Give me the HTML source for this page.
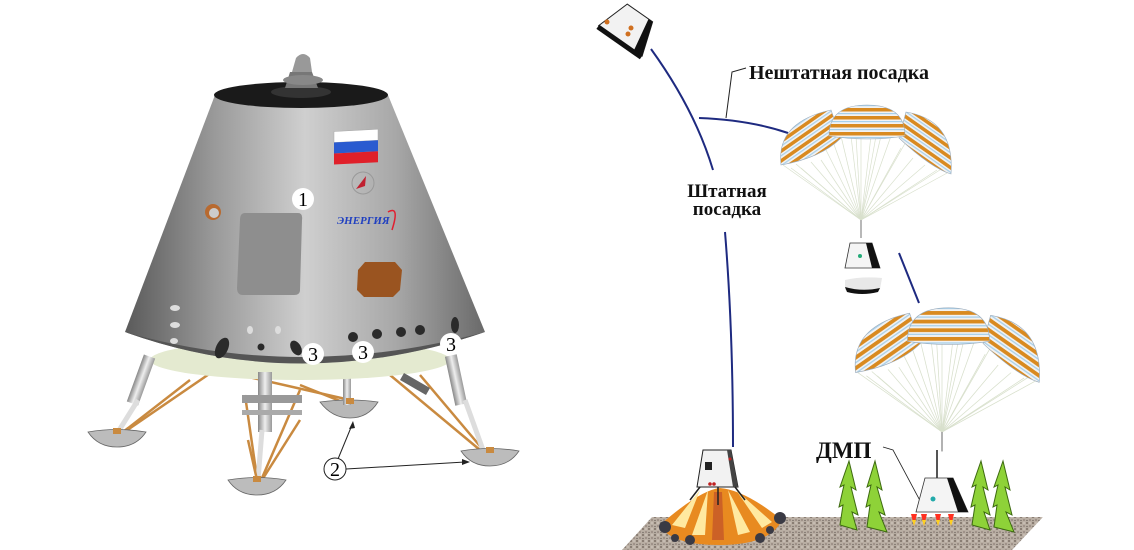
<!DOCTYPE html>
<html><head><meta charset="utf-8"><style>
html,body{margin:0;padding:0;background:#fff;}
svg{display:block;}
text{font-family:"Liberation Serif",serif;}
</style></head><body>
<svg width="1134" height="550" viewBox="0 0 1134 550" xmlns="http://www.w3.org/2000/svg">
<defs>
<linearGradient id="body" x1="0" x2="1" y1="0" y2="0">
<stop offset="0" stop-color="#5a5a5a"/><stop offset="0.25" stop-color="#9a9a9a"/><stop offset="0.5" stop-color="#cfcfcf"/><stop offset="0.75" stop-color="#a8a8a8"/><stop offset="1" stop-color="#6a6a6a"/>
</linearGradient>
<linearGradient id="leg" x1="0" x2="1"><stop offset="0" stop-color="#888"/><stop offset=".5" stop-color="#eee"/><stop offset="1" stop-color="#999"/></linearGradient>
<pattern id="str" width="20" height="8" patternUnits="userSpaceOnUse">
<rect width="20" height="8" fill="#f2f2f2"/><rect y="0" width="20" height="3.5" fill="#d98a20"/><rect y="5" width="20" height="1.2" fill="#a8d0ea"/>
</pattern>
<pattern id="str2" width="20" height="8" patternUnits="userSpaceOnUse" patternTransform="rotate(-35)">
<rect width="20" height="8" fill="#f2f2f2"/><rect width="20" height="3.5" fill="#d98a20"/><rect y="5" width="20" height="1.2" fill="#a8d0ea"/>
</pattern>
<pattern id="str3" width="20" height="8" patternUnits="userSpaceOnUse" patternTransform="rotate(35)">
<rect width="20" height="8" fill="#f2f2f2"/><rect width="20" height="3.5" fill="#d98a20"/><rect y="5" width="20" height="1.2" fill="#a8d0ea"/>
</pattern>
<pattern id="gr" width="6" height="6" patternUnits="userSpaceOnUse">
<rect width="6" height="6" fill="#b9aea3"/><circle cx="1" cy="1" r="1" fill="#7a6e66"/><circle cx="4" cy="4" r="0.9" fill="#8c7f77"/><circle cx="4" cy="1" r="0.6" fill="#e6e0da"/><circle cx="1" cy="4.5" r="0.6" fill="#5f5650"/>
</pattern>
<g id="chute">
<g stroke="#d8e0cc" stroke-width="0.7">
<line x1="0" y1="0" x2="-78" y2="-55"/><line x1="0" y1="0" x2="-70" y2="-52"/><line x1="0" y1="0" x2="-60" y2="-52"/><line x1="0" y1="0" x2="-50" y2="-58"/><line x1="0" y1="0" x2="-40" y2="-60"/><line x1="0" y1="0" x2="-30" y2="-84"/><line x1="0" y1="0" x2="-20" y2="-84"/><line x1="0" y1="0" x2="-10" y2="-84"/><line x1="0" y1="0" x2="0" y2="-84"/><line x1="0" y1="0" x2="10" y2="-84"/><line x1="0" y1="0" x2="20" y2="-84"/><line x1="0" y1="0" x2="30" y2="-84"/><line x1="0" y1="0" x2="40" y2="-72"/><line x1="0" y1="0" x2="52" y2="-62"/><line x1="0" y1="0" x2="64" y2="-55"/><line x1="0" y1="0" x2="76" y2="-50"/><line x1="0" y1="0" x2="88" y2="-48"/><line x1="0" y1="0" x2="-35" y2="-70"/><line x1="0" y1="0" x2="46" y2="-80"/><line x1="0" y1="0" x2="-65" y2="-56"/><line x1="0" y1="0" x2="82" y2="-52"/><line x1="0" y1="0" x2="-5" y2="-84"/><line x1="0" y1="0" x2="15" y2="-84"/>
</g>
<path d="M-80,-55 Q-85,-98 -30,-110 L-20,-82 Q-40,-62 -80,-55Z" fill="url(#str2)" stroke="#9ab" stroke-width="0.6"/>
<path d="M38,-82 L45,-108 Q94,-100 90,-46 Q70,-52 38,-82Z" fill="url(#str3)" stroke="#9ab" stroke-width="0.6"/>
<path d="M-32,-84 Q-32,-115 6,-115 Q44,-115 44,-84 Q6,-78 -32,-84Z" fill="url(#str)" stroke="#9ab" stroke-width="0.6"/>
<line x1="0" y1="0" x2="0" y2="18" stroke="#888" stroke-width="1.2"/>
</g>
</defs>

<!-- ================= LEFT: lander ================= -->
<g stroke="#c98a40" stroke-width="2.5">
<line x1="215" y1="370" x2="123" y2="433"/>
<line x1="300" y1="385" x2="350" y2="405"/>
<line x1="390" y1="375" x2="480" y2="450"/>
<line x1="420" y1="375" x2="485" y2="452"/>
<line x1="245" y1="395" x2="257" y2="478"/>
<line x1="300" y1="390" x2="262" y2="478"/>
<line x1="240" y1="375" x2="350" y2="400"/>
</g>
<path d="M320,402 Q350,398 378,402 Q368,418 350,418 Q332,418 320,402Z" fill="#b8b8b8" stroke="#666" stroke-width="0.8"/>
<rect x="343" y="375" width="8" height="30" fill="url(#leg)"/>
<ellipse cx="300" cy="360" rx="150" ry="20" fill="#e4ead0"/>
<path d="M215,95 L388,95 L485,332 Q300,395 125,332 Z" fill="url(#body)"/>
<path d="M125,332 Q300,395 485,332 Q300,382 125,332Z" fill="#555"/>
<ellipse cx="301" cy="95" rx="87" ry="13" fill="#1a1a1a"/>
<ellipse cx="301" cy="92" rx="30" ry="6" fill="#333"/>
<path d="M285,88 L290,72 L312,72 L318,88 Z" fill="#777"/>
<path d="M292,72 L296,58 Q303,50 310,58 L312,72Z" fill="#999"/>
<ellipse cx="303" cy="80" rx="20" ry="5" fill="#888"/>
<g transform="skewY(-3)">
<rect x="334" y="149" width="44" height="11" fill="#fff" stroke="#aaa" stroke-width="0.5"/>
<rect x="334" y="160" width="44" height="11" fill="#2a5bd0"/>
<rect x="334" y="171" width="44" height="11" fill="#e0202a"/>
</g>
<circle cx="363" cy="183" r="11" fill="none" stroke="#999" stroke-width="1"/>
<path d="M356,189 L366,176 L365,186Z" fill="#c02030"/>
<text x="337" y="224" font-family="Liberation Sans,sans-serif" font-size="11" font-weight="bold" font-style="italic" fill="#2040c0">ЭНЕРГИЯ</text>
<path d="M388,212 Q400,205 392,230" fill="none" stroke="#e02030" stroke-width="1.5"/>
<circle cx="213" cy="212" r="8" fill="#b86a30"/><circle cx="214" cy="213" r="5" fill="#ccc"/>
<path d="M245,213 L298,213 Q303,213 302,220 L300,290 Q300,295 294,295 L243,295 Q237,295 237,288 L240,220 Q240,213 245,213Z" fill="#8e8e8e"/>
<path d="M365,262 L395,262 L402,270 L400,290 L393,297 L364,297 L357,290 L358,270Z" fill="#9a5420"/>
<g fill="#2a2a2a">
<ellipse cx="222" cy="348" rx="6" ry="11" transform="rotate(25 222 348)"/>
<circle cx="261" cy="347" r="3.5"/>
<ellipse cx="296" cy="348" rx="5" ry="8" transform="rotate(-30 296 348)"/>
<circle cx="353" cy="337" r="5"/><circle cx="377" cy="334" r="5"/><circle cx="401" cy="332" r="5"/><circle cx="420" cy="330" r="5"/>
<ellipse cx="455" cy="325" rx="4" ry="8"/>
</g>
<g fill="#ddd"><ellipse cx="175" cy="308" rx="5" ry="3"/><ellipse cx="175" cy="325" rx="5" ry="3"/><ellipse cx="174" cy="341" rx="4" ry="3"/><ellipse cx="250" cy="330" rx="3" ry="4"/><ellipse cx="278" cy="330" rx="3" ry="4"/></g>
<rect x="135" y="355" width="12" height="50" fill="url(#leg)" transform="rotate(20 141 380)"/>
<line x1="138" y1="400" x2="118" y2="432" stroke="#ddd" stroke-width="5"/>
<rect x="258" y="372" width="14" height="60" fill="url(#leg)"/>
<line x1="262" y1="430" x2="258" y2="480" stroke="#ddd" stroke-width="5"/>
<rect x="242" y="395" width="60" height="8" fill="#999"/>
<rect x="242" y="410" width="60" height="5" fill="#aaa"/>
<rect x="450" y="355" width="12" height="50" fill="url(#leg)" transform="rotate(-12 456 380)"/>
<line x1="465" y1="400" x2="483" y2="450" stroke="#ddd" stroke-width="5"/>
<rect x="400" y="380" width="30" height="8" fill="#666" transform="rotate(30 415 384)"/>
<g stroke="#c98a40" stroke-width="2.5">
<line x1="190" y1="380" x2="123" y2="432"/>
<line x1="248" y1="440" x2="257" y2="480"/>
<line x1="300" y1="420" x2="262" y2="480"/>
</g>
<path d="M88,432 Q117,427 146,432 Q136,447 117,447 Q98,447 88,432Z" fill="#bcbcbc" stroke="#666" stroke-width="0.8"/>
<path d="M228,480 Q257,475 286,480 Q276,495 257,495 Q238,495 228,480Z" fill="#bcbcbc" stroke="#666" stroke-width="0.8"/>
<path d="M461,451 Q490,446 519,451 Q509,466 490,466 Q471,466 461,451Z" fill="#bcbcbc" stroke="#666" stroke-width="0.8"/>
<g fill="#c98a40"><rect x="113" y="428" width="8" height="6"/><rect x="253" y="476" width="8" height="6"/><rect x="486" y="447" width="8" height="6"/><rect x="346" y="398" width="8" height="6"/></g>
<g font-size="20" text-anchor="middle">
<circle cx="303" cy="199" r="11" fill="#fff"/><text x="303" y="206">1</text>
<circle cx="313" cy="354" r="11" fill="#fff"/><text x="313" y="361">3</text>
<circle cx="363" cy="352" r="11" fill="#fff"/><text x="363" y="359">3</text>
<circle cx="451" cy="344" r="11" fill="#fff"/><text x="451" y="351">3</text>
</g>
<line x1="338" y1="459" x2="352" y2="425" stroke="#222" stroke-width="1"/>
<path d="M353,421 L349,429 L355,428Z" fill="#222"/>
<line x1="346" y1="469" x2="465" y2="462" stroke="#222" stroke-width="1"/>
<path d="M470,462 L462,459 L462,465Z" fill="#222"/>
<circle cx="335" cy="469" r="11" fill="#fff" stroke="#222" stroke-width="1"/><text x="335" y="476" font-size="20" text-anchor="middle">2</text>

<!-- ================= RIGHT ================= -->
<path d="M652,517 L1043,517 L1012,550 L622,550Z" fill="url(#gr)"/>
<g fill="none" stroke="#1e2a80" stroke-width="2">
<path d="M651,49 Q695,110 713,170"/>
<path d="M699,118 Q750,120 788,133"/>
<path d="M725,232 Q733,330 733,447"/>
<path d="M899,253 L919,303"/>
</g>
<path d="M726,118 L732,72 L746,68" fill="none" stroke="#222" stroke-width="1"/>
<text x="749" y="79" font-size="20" font-weight="bold" fill="#111">Нештатная посадка</text>
<text x="727" y="197" font-size="19" font-weight="bold" text-anchor="middle" fill="#111">Штатная</text>
<text x="727" y="215" font-size="19" font-weight="bold" text-anchor="middle" fill="#111">посадка</text>
<text x="816" y="458" font-size="23" font-weight="bold" fill="#111">ДМП</text>
<path d="M883,447 L893,450 L925,510" fill="none" stroke="#222" stroke-width="0.8"/>
<!-- top capsule -->
<g transform="rotate(35 630 28)">
<path d="M614,10 L645,10 L656,44 L603,44Z" fill="#f2f2f2" stroke="#222"/>
<path d="M640,10 L645,10 L656,44 L646,44Z" fill="#111"/>
<rect x="603" y="43" width="53" height="5" fill="#111"/>
</g>
<circle cx="607" cy="22" r="2.5" fill="#d07020"/><circle cx="628" cy="34" r="2.5" fill="#d07020"/><circle cx="631" cy="28" r="2.5" fill="#d07020"/>
<use href="#chute" transform="translate(861,220) scale(1)"/>
<use href="#chute" transform="translate(942,432) scale(1.08)"/>
<path d="M850,243 L872,243 L880,268 L845,268Z" fill="#f4f4f4" stroke="#333" stroke-width="0.8"/>
<path d="M866,243 L872,243 L880,268 L872,268Z" fill="#111"/>
<circle cx="860" cy="256" r="2" fill="#2a7"/>
<path d="M845,280 Q862,276 882,278 L880,289 Q862,294 845,290Z" fill="#e8e8e8"/>
<path d="M845,287 Q862,292 880,288 L878,292 Q862,296 847,292Z" fill="#111"/>
<line x1="937" y1="450" x2="937" y2="479" stroke="#555" stroke-width="2"/>
<path d="M925,478 L953,478 L968,512 L916,512Z" fill="#f4f4f4" stroke="#333" stroke-width="0.8"/>
<path d="M947,478 L953,478 L968,512 L958,512Z" fill="#111"/>
<circle cx="933" cy="499" r="2.5" fill="#2aa"/>
<g fill="#ff3020"><path d="M911,514 l3,12 l3,-12z"/><path d="M921,514 l3,12 l3,-12z"/><path d="M935,514 l3,12 l3,-12z"/><path d="M948,514 l3,12 l3,-12z"/></g>
<g fill="#ffd020"><path d="M912,520 l2,6 l2,-6z"/><path d="M922,520 l2,6 l2,-6z"/><path d="M936,520 l2,6 l2,-6z"/><path d="M949,520 l2,6 l2,-6z"/></g>
<g fill="#8ed238" stroke="#3d6a10" stroke-width="1">
<path d="M849,461 L856,490 L851,487 L858,515 L852,512 L857,530 L840,525 L843,505 L839,507 L844,485 L840,487Z"/>
<path d="M875,461 L882,490 L877,487 L885,515 L879,512 L887,532 L867,527 L870,505 L866,507 L871,485 L867,487Z"/>
<path d="M981,461 L988,490 L983,487 L990,515 L984,512 L990,530 L972,525 L975,505 L971,507 L976,485 L972,487Z"/>
<path d="M1003,461 L1010,490 L1005,487 L1012,515 L1006,512 L1014,532 L994,527 L997,505 L993,507 L998,485 L994,487Z"/>
</g>
<!-- standard landing with flames -->
<path d="M660,525 Q700,490 720,488 Q745,490 782,520 Q770,545 720,545 Q670,545 660,525Z" fill="#e88a20"/>
<g fill="#ffe9a0">
<path d="M700,490 L672,525 L685,528Z"/><path d="M708,490 L692,535 L705,535Z"/><path d="M728,490 L738,535 L750,532Z"/><path d="M736,490 L762,528 L772,522Z"/>
</g>
<path d="M714,492 L712,540 L724,540 L722,492Z" fill="#c0502a" opacity="0.7"/>
<g fill="#3a3a44"><circle cx="665" cy="527" r="6"/><circle cx="780" cy="518" r="6"/><circle cx="690" cy="540" r="5"/><circle cx="760" cy="538" r="5"/><circle cx="675" cy="538" r="4"/><circle cx="770" cy="530" r="4"/></g>
<path d="M703,450 L731,450 L738,487 L697,487Z" fill="#f2f2f2" stroke="#222" stroke-width="1"/>
<path d="M727,450 L731,450 L738,487 L733,487Z" fill="#444"/>
<rect x="705" y="462" width="7" height="8" fill="#222"/>
<g fill="#c02020"><circle cx="710" cy="484" r="1.8"/><circle cx="714" cy="484" r="1.8"/><circle cx="730" cy="459" r="1.5"/></g>
<g stroke="#222" stroke-width="1.5"><line x1="700" y1="487" x2="690" y2="500"/><line x1="735" y1="487" x2="745" y2="500"/><line x1="718" y1="487" x2="718" y2="505"/></g>
</svg>
</body></html>
